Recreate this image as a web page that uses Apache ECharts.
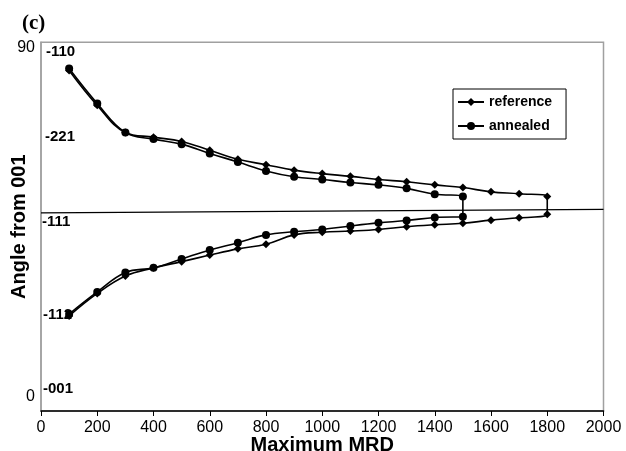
<!DOCTYPE html>
<html>
<head>
<meta charset="utf-8">
<script src="https://cdn.jsdelivr.net/npm/echarts@6/dist/echarts.min.js"></script>
<style>
html,body{margin:0;padding:0;background:#fff}
#chart{width:626px;height:451px}
</style>
</head>
<body>
<div id="chart"></div>
<script>
// Maximum MRD for each point
var mrdRef = [100,200,300,400,500,600,700,800,900,1000,1100,1200,1300,1400,1500,1600,1700,1800];
var mrdAnn = [100,200,300,400,500,600,700,800,900,1000,1100,1200,1300,1400,1500];
// angle from 001, upper and lower branch
var refUpper = [84.2,75.2,68.2,67.0,65.9,63.6,61.3,59.9,58.5,57.6,56.9,56.1,55.5,54.7,54.0,52.9,52.4,51.7];
var refLower = [20.9,26.7,31.2,33.3,34.9,36.6,38.2,39.4,41.8,42.5,42.8,43.2,43.9,44.4,44.8,45.6,46.2,47.1];
var annUpper = [84.7,75.7,68.2,66.5,65.2,62.8,60.6,58.3,56.8,56.1,55.3,54.7,53.8,52.3,51.7];
var annLower = [21.4,27.1,32.1,33.3,35.6,37.9,39.8,41.8,42.6,43.2,44.1,44.9,45.5,46.3,46.5];
// the -111 line
var baseX = [0, 2000];
var baseY = [47.5, 48.4];
var poleLabels = ['-110','-221','-111','-112','-001'];
var yTickValues = [0, 90];

var myChart = echarts.init(document.getElementById('chart'));

function loop(xs, up, low){
    var d = [];
    for (var i = 0; i < xs.length; i++) d.push([xs[i], up[i]]);
    for (var j = xs.length - 1; j >= 0; j--) d.push([xs[j], low[j]]);
    return d;
}

var labelPos = [[46,52],[45,137],[42,222],[43,315],[43,389]];
var graphics = poleLabels.map(function(t, i){
    return {type:'text', x:labelPos[i][0], y:labelPos[i][1], z:100,
        style:{text:t, fill:'#000', font:'bold 15px "Liberation Sans"', verticalAlign:'middle'}};
});
graphics.push({type:'text', x:22, y:24, style:{text:'(c)', fill:'#000', font:'bold 21px "Liberation Serif"', verticalAlign:'middle'}});

var option = {
    animation: false,
    backgroundColor: '#fff',
    textStyle: {fontFamily: 'Liberation Sans'},
    grid: {left:41, right:22.5, top:42.3, bottom:40, containLabel:false, outerBoundsMode:'none',
        show:true, borderColor:'#a0a0a0', borderWidth:1.5},
    legend: {
        orient: 'vertical', left: 453, top: 89,
        data: ['reference','annealed'],
        backgroundColor: '#fff', borderColor: '#000', borderWidth: 1, borderRadius: 0,
        padding: [5,14,5,4], itemGap: 8, itemWidth: 26, itemHeight: 10,
        textStyle: {color:'#000', fontWeight:'bold', fontSize:14, lineHeight:16}
    },
    xAxis: {
        type: 'value', min: 0, max: 2000, interval: 200,
        name: 'Maximum MRD', nameLocation: 'middle', nameGap: 24, nameMoveOverlap: false,
        nameTextStyle: {color:'#000', fontWeight:'bold', fontSize:20},
        axisLine: {onZero:false, lineStyle:{color:'#000', width:1.5}},
        axisTick: {show:true, length:5, lineStyle:{color:'#000'}},
        axisLabel: {color:'#000', fontSize:16, margin:9, formatter: function(v){ return String(v); }},
        splitLine: {show:false}
    },
    yAxis: {
        type: 'value', min: -3.61, max: 91.46,
        name: 'Angle from 001', nameLocation: 'middle', nameGap: 12, nameMoveOverlap: false,
        nameTextStyle: {color:'#000', fontWeight:'bold', fontSize:20},
        axisLine: {show:true, lineStyle:{color:'#a0a0a0', width:1.5}},
        axisTick: {show:false},
        axisLabel: {color:'#000', fontSize:16, margin:6, customValues: yTickValues},
        splitLine: {show:false}
    },
    series: [
        {
            name: 'reference', type: 'line', smooth: 0.4,
            data: loop(mrdRef, refUpper, refLower),
            symbol: 'diamond', symbolSize: 8,
            itemStyle: {color:'#000'}, lineStyle: {color:'#000', width:1.6}
        },
        {
            name: 'annealed', type: 'line', smooth: 0.4,
            data: loop(mrdAnn, annUpper, annLower),
            symbol: 'circle', symbolSize: 8,
            itemStyle: {color:'#000'}, lineStyle: {color:'#000', width:1.6}
        },
        {
            name: 'base', type: 'line', symbol: 'none', silent: true,
            data: baseX.map(function(x, i){ return [x, baseY[i]]; }),
            lineStyle: {color:'#000', width:1.3}
        }
    ],
    graphic: graphics
};
myChart.setOption(option);
</script>
</body>
</html>
